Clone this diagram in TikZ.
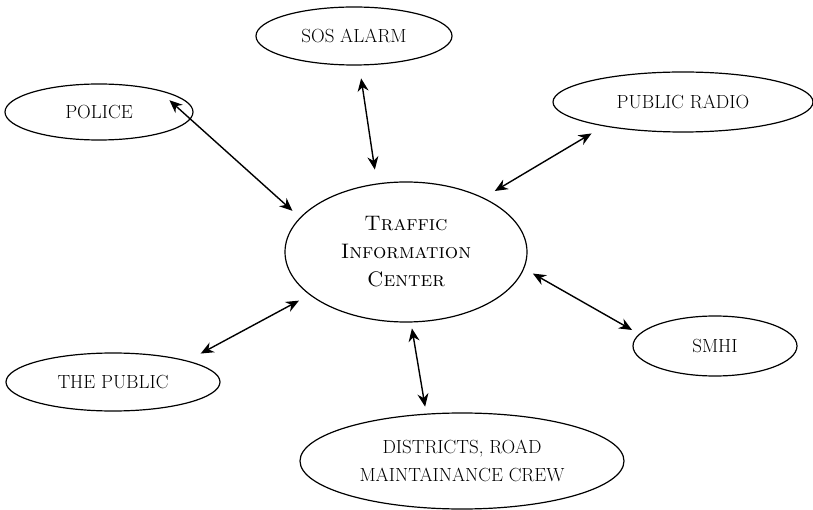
\documentclass[tikz,border=0pt]{standalone}
\usepackage{fontspec}
\usetikzlibrary{arrows.meta,shapes.geometric}
\tikzset{>={Stealth[length=13pt,width=11pt]},
  unit/.style={ellipse,draw,line width=1.2pt,inner sep=0pt,align=center,
    font=\fontsize{19}{28}\selectfont},
  link/.style={<->,line width=1.4pt,shorten >=12pt,shorten <=12pt}}
\begin{document}
\begin{tikzpicture}[x=1pt,y=-1pt]
  \useasboundingbox (0,0) rectangle (813,510);
  % centre
  \node[unit,minimum width=242pt,minimum height=140pt,
    font=\fontsize{21}{28}\selectfont] (tic) at (406,252)
    {\textsc{Traffic}\\\textsc{Information}\\\textsc{Center}};
  % partners
  \node[unit,minimum width=196pt,minimum height=58pt] (sos) at (354,36) {SOS ALARM};
  \node[unit,minimum width=188pt,minimum height=56pt] (police) at (99,112) {POLICE};
  \node[unit,minimum width=260pt,minimum height=60pt] (radio) at (683,102) {PUBLIC RADIO};
  \node[unit,minimum width=164pt,minimum height=60pt] (smhi) at (715,346) {SMHI};
  \node[unit,minimum width=214pt,minimum height=58pt] (public) at (113,382) {THE PUBLIC};
  \node[unit,minimum width=324pt,minimum height=96pt] (districts) at (462,461)
    {DISTRICTS, ROAD\\MAINTAINANCE CREW};
  % links
  \draw[link,shorten <=13pt,shorten >=14pt] (sos.-80) -- (tic.113);
  \draw[link,shorten <=16pt,shorten >=10pt] (police.21) -- (tic.162);
  \draw[link,shorten <=14pt,shorten >=13pt] (radio.197) -- (tic.35);
  \draw[link,shorten <=10pt,shorten >=8pt] (tic.-8) -- (smhi.171);
  \draw[link,shorten <=15pt,shorten >=12pt] (public.16) -- (tic.204);
  \draw[link,shorten <=6pt,shorten >=7pt] (tic.-86) -- (districts.127);
\end{tikzpicture}
\end{document}
